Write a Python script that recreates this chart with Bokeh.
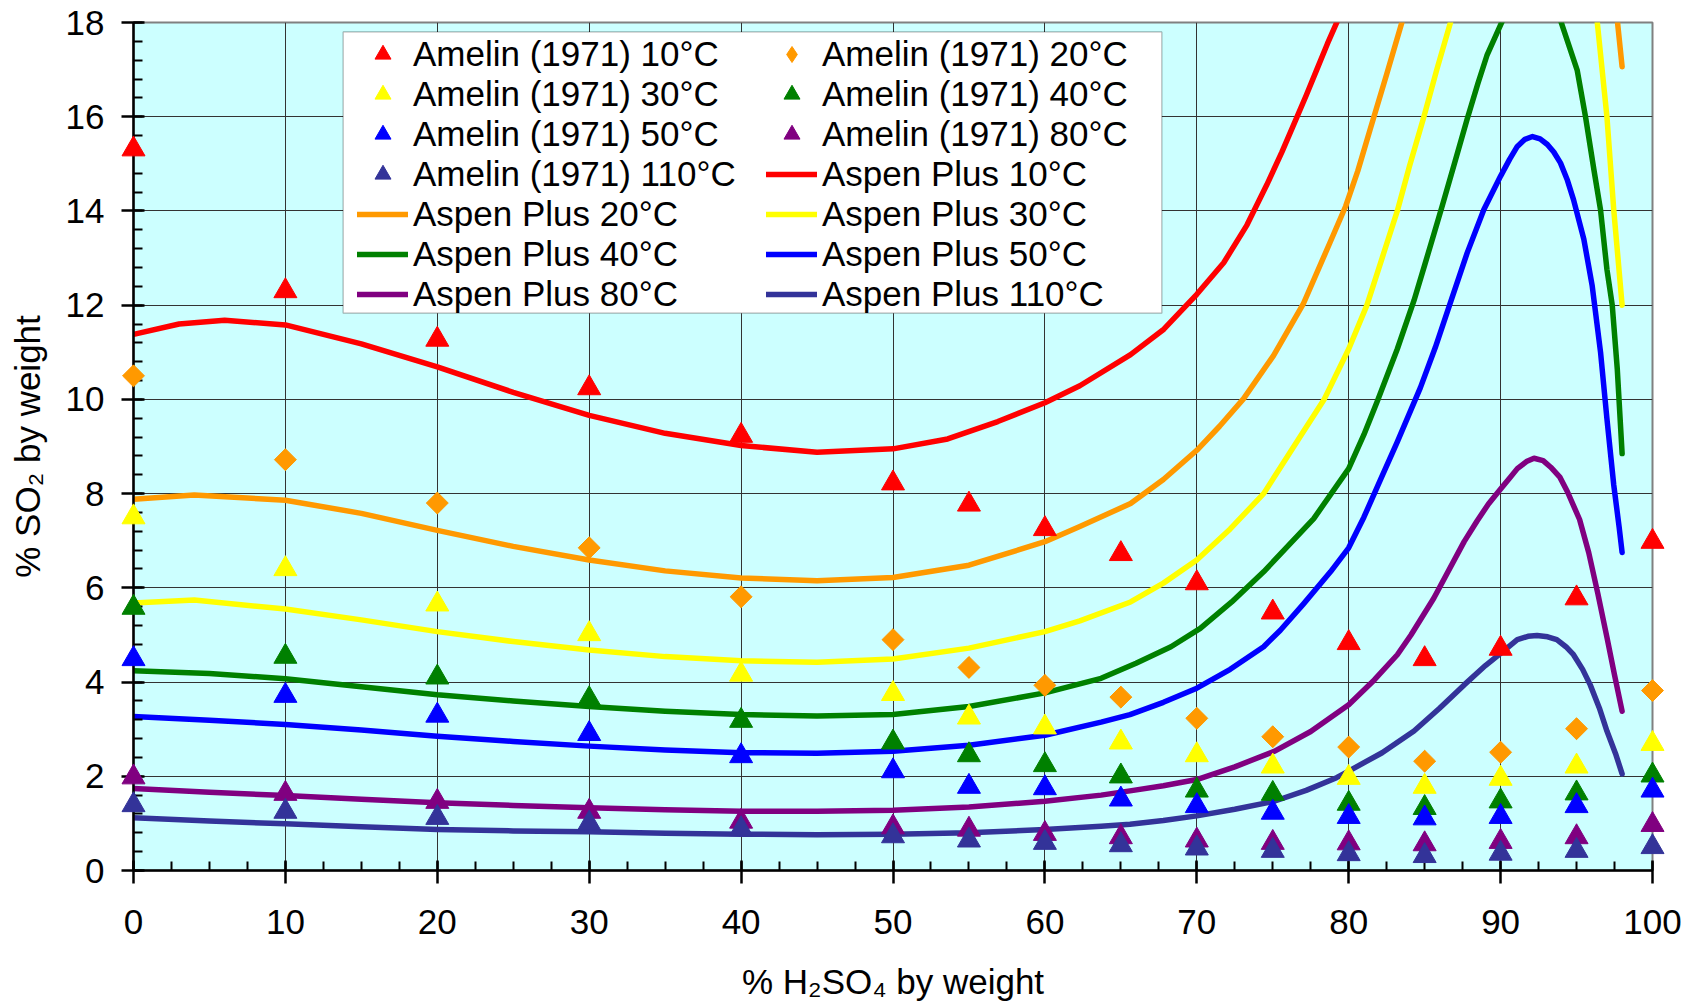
import math
from bokeh.plotting import figure
from bokeh.models import Range1d, FixedTicker, Legend, LegendItem, BoxAnnotation
from bokeh.embed import file_html
from bokeh.resources import INLINE

# ---------------- data ----------------
h2so4_pct = [0, 10, 20, 30, 40, 50, 55, 60, 65, 70, 75, 80, 85, 90, 95, 100]

amelin_10c = [15.31, 12.30, 11.27, 10.24, 9.23, 8.22, 7.77, 7.25, 6.72, 6.10, 5.48, 4.83, 4.49, 4.71, 5.78, 6.98]
amelin_20c = [10.50, 8.72, 7.80, 6.85, 5.81, 4.90, 4.31, 3.93, 3.68, 3.23, 2.84, 2.62, 2.32, 2.51, 3.01, 3.82]
amelin_30c = [7.50, 6.40, 5.65, 5.02, 4.16, 3.75, 3.25, 3.04, 2.72, 2.45, 2.21, 1.97, 1.78, 1.95, 2.21, 2.69]
amelin_40c = [5.58, 4.54, 4.10, 3.64, 3.18, 2.72, 2.45, 2.24, 2.00, 1.70, 1.63, 1.42, 1.33, 1.47, 1.64, 2.02]
amelin_50c = [4.49, 3.71, 3.29, 2.90, 2.43, 2.11, 1.78, 1.75, 1.51, 1.37, 1.23, 1.14, 1.11, 1.14, 1.37, 1.70]
amelin_80c = [1.98, 1.63, 1.46, 1.25, 1.04, 0.92, 0.87, 0.78, 0.71, 0.64, 0.59, 0.58, 0.56, 0.61, 0.71, 0.97]
amelin_110c = [1.39, 1.25, 1.12, 1.00, 0.88, 0.73, 0.64, 0.59, 0.54, 0.47, 0.42, 0.35, 0.31, 0.36, 0.42, 0.50]

aspen_10c_x = [0, 3, 6, 10, 15, 20, 25, 30, 35, 40, 45, 50, 53.6, 56.9, 60, 62.3, 65.64, 67.83, 70.0,
               71.77, 73.3, 74.6, 75.6, 76.4, 77.2, 77.9, 78.6, 79.35, 79.7]
aspen_10c_y = [11.38, 11.6, 11.68, 11.58, 11.18, 10.69, 10.15, 9.66, 9.28, 9.02, 8.88, 8.95, 9.16, 9.53, 9.93,
               10.29, 10.95, 11.49, 12.23, 12.9, 13.7, 14.55, 15.25, 15.85, 16.45, 17.0, 17.55, 18.1, 18.4]

aspen_20c_x = [0, 4, 10, 15, 20, 25, 30, 35, 40, 45, 50, 55, 60, 62.3, 65.64, 67.8, 70.0, 71.5, 73.07,
               75.05, 77.0, 78.77, 79.8, 80.6, 81.4, 82.5, 83.5, 83.8]
aspen_20c_y = [7.88, 7.97, 7.86, 7.58, 7.22, 6.88, 6.59, 6.36, 6.21, 6.15, 6.22, 6.48, 6.98, 7.3, 7.79, 8.3,
               8.92, 9.43, 10.01, 10.93, 12.02, 13.33, 14.1, 14.85, 15.72, 16.9, 18.0, 18.3]
aspen_20c_tail_x = [97.65, 98.0]
aspen_20c_tail_y = [18.15, 17.06]

aspen_30c_x = [0, 4, 10, 15, 20, 25, 30, 35, 40, 45, 50, 55, 60, 62.3, 65.64, 67.8, 70.0, 72.2, 74.4,
               77.0, 78.4, 80.0, 81.2, 82.2, 83.2, 84.0, 84.95, 85.8, 86.7, 87.0]
aspen_30c_y = [5.68, 5.74, 5.55, 5.32, 5.07, 4.86, 4.68, 4.54, 4.45, 4.42, 4.49, 4.72, 5.07, 5.3, 5.7, 6.1,
               6.59, 7.25, 8.0, 9.31, 10.01, 11.07, 12.0, 13.0, 14.0, 14.95, 16.0, 17.0, 18.0, 18.35]
aspen_30c_tail_x = [96.3, 96.35, 97.0, 97.45, 98.0]
aspen_30c_tail_y = [18.3, 18.05, 16.0, 14.02, 12.0]

aspen_40c_x = [0, 5, 10, 15, 20, 25, 30, 35, 40, 45, 50, 55, 60, 63.7, 66, 68.3, 70.23, 72.3, 74.4, 77.7,
               80.0, 81.0, 81.87, 83.2, 84.3, 85.0, 85.6, 86.15, 87.0, 87.8, 88.5, 89.1, 90.0, 90.5]
aspen_40c_y = [4.24, 4.18, 4.07, 3.90, 3.73, 3.60, 3.48, 3.38, 3.31, 3.28, 3.31, 3.48, 3.77, 4.08, 4.4, 4.75,
               5.14, 5.7, 6.34, 7.47, 8.53, 9.25, 9.95, 11.07, 12.1, 12.85, 13.5, 14.1, 15.05, 15.95, 16.7,
               17.3, 17.95, 18.3]
aspen_40c_tail_x = [93.8, 93.94, 95.04, 95.59, 96.14, 96.58, 97.0, 97.35, 97.68, 98.0]
aspen_40c_tail_y = [18.2, 18.05, 16.99, 16.0, 14.88, 14.02, 12.76, 12.0, 10.65, 8.85]

aspen_50c_x = [0, 5, 10, 15, 20, 25, 30, 35, 40, 45, 50, 55, 60, 63.7, 65.6, 67.8, 70, 72.2, 74.4, 75.5,
               77.0, 78.8, 80.0, 81.0, 82.1, 83.2, 84.72, 85.7, 86.7, 87.8, 88.9, 90.0, 90.6, 91.1, 91.6,
               92.1, 92.6, 93.08, 93.5, 93.94, 94.4, 94.8, 95.48, 96.03, 96.58, 97.0, 97.45, 97.8, 98.0]
aspen_50c_y = [3.27, 3.19, 3.10, 2.98, 2.85, 2.74, 2.64, 2.56, 2.50, 2.49, 2.53, 2.66, 2.87, 3.15, 3.31, 3.57,
               3.87, 4.27, 4.75, 5.1, 5.65, 6.34, 6.85, 7.5, 8.3, 9.1, 10.25, 11.1, 12.06, 13.11, 14.03,
               14.74, 15.1, 15.37, 15.52, 15.58, 15.53, 15.41, 15.25, 15.02, 14.65, 14.24, 13.4, 12.41,
               11.0, 9.59, 8.18, 7.3, 6.75]

aspen_80c_x = [0, 5, 10, 15, 20, 25, 30, 35, 40, 45, 50, 55, 60, 63.7, 65.6, 67.8, 70, 72.5, 75.1, 77.5,
               80, 81.7, 83.2, 84.1, 85.6, 87.6, 88.45, 89.2, 90.0, 90.6, 91.1, 91.7, 92.2, 92.8, 93.3, 93.9,
               94.4, 95.2, 95.8, 96.4, 97.0, 97.5, 98.0]
aspen_80c_y = [1.74, 1.66, 1.59, 1.51, 1.44, 1.38, 1.33, 1.29, 1.26, 1.26, 1.28, 1.35, 1.47, 1.6, 1.69, 1.8,
               1.93, 2.2, 2.53, 2.95, 3.52, 4.05, 4.58, 5.0, 5.78, 6.98, 7.42, 7.78, 8.1, 8.33, 8.53, 8.68,
               8.75, 8.7, 8.56, 8.35, 8.04, 7.45, 6.75, 5.88, 4.95, 4.15, 3.38]

aspen_110c_x = [0, 5, 10, 15, 20, 25, 30, 35, 40, 45, 50, 55, 60, 63.7, 65.6, 67.8, 70, 72.5, 75.1, 77.2,
                79.2, 80, 82.2, 84.3, 86, 87.6, 89, 90, 91.1, 91.8, 92.4, 93.1, 93.7, 94.3, 94.8, 95.4, 95.9,
                96.5, 97.0, 97.6, 98.0]
aspen_110c_y = [1.12, 1.05, 0.99, 0.93, 0.87, 0.84, 0.82, 0.79, 0.77, 0.76, 0.77, 0.80, 0.87, 0.94, 0.98,
                1.06, 1.16, 1.3, 1.47, 1.7, 1.97, 2.11, 2.5, 2.96, 3.45, 3.94, 4.35, 4.61, 4.9, 4.97, 4.99,
                4.96, 4.9, 4.75, 4.58, 4.27, 3.94, 3.45, 2.96, 2.45, 2.05]

x_ticks = [0, 10, 20, 30, 40, 50, 60, 70, 80, 90, 100]
y_ticks = [0, 2, 4, 6, 8, 10, 12, 14, 16, 18]
x_minor_ticks = [i * 2.5 for i in range(41)]
y_minor_ticks = [round(i * 0.4, 1) for i in range(46)]

amelin_labels = ["Amelin (1971) 10°C", "Amelin (1971) 20°C", "Amelin (1971) 30°C", "Amelin (1971) 40°C",
                 "Amelin (1971) 50°C", "Amelin (1971) 80°C", "Amelin (1971) 110°C"]
aspen_labels = ["Aspen Plus 10°C", "Aspen Plus 20°C", "Aspen Plus 30°C", "Aspen Plus 40°C",
                "Aspen Plus 50°C", "Aspen Plus 80°C", "Aspen Plus 110°C"]
x_title = "% H₂SO₄ by weight"
y_title = "% SO₂ by weight"

# ---------------- styling ----------------
FONT = "Liberation Sans"
FS = "35px"
colors = ["#FF0000", "#FF9900", "#FFFF00", "#008000", "#0000FF", "#800080", "#333399"]

p = figure(width=1696, height=1003, x_range=Range1d(0, 100), y_range=Range1d(0, 18),
           output_backend="svg", toolbar_location=None,
           min_border_left=133, min_border_right=44, min_border_top=22, min_border_bottom=130,
           background_fill_color="#CCFFFF", border_fill_color="white",
           outline_line_color="#808080", outline_line_width=2)

p.xaxis.ticker = FixedTicker(ticks=x_ticks, minor_ticks=x_minor_ticks)
p.yaxis.ticker = FixedTicker(ticks=y_ticks, minor_ticks=y_minor_ticks)
p.xgrid.ticker = FixedTicker(ticks=x_ticks)
p.ygrid.ticker = FixedTicker(ticks=y_ticks)
for g in (p.xgrid[0], p.ygrid[0]):
    g.grid_line_color = "#333333"
    g.grid_line_width = 1

for ax in (p.xaxis[0], p.yaxis[0]):
    ax.axis_line_color = "black"
    ax.axis_line_width = 2.5
    ax.major_tick_line_color = "black"
    ax.major_tick_line_width = 2.5
    ax.minor_tick_line_color = "black"
    ax.minor_tick_line_width = 2
    ax.minor_tick_out = 0
    ax.major_label_text_font = FONT
    ax.major_label_text_font_size = FS
    ax.major_label_text_color = "black"
    ax.axis_label_text_font = FONT
    ax.axis_label_text_font_size = FS
    ax.axis_label_text_font_style = "normal"
    ax.axis_label_text_color = "black"

p.xaxis.major_tick_in = 10
p.xaxis.major_tick_out = 13
p.xaxis.minor_tick_in = 9
p.xaxis.major_label_standoff = 26
p.xaxis.axis_label_standoff = 25
p.xaxis.axis_label = x_title

p.yaxis.major_tick_in = 11
p.yaxis.major_tick_out = 12
p.yaxis.minor_tick_in = 9
p.yaxis.major_label_standoff = 17
p.yaxis.axis_label_standoff = 16
p.yaxis.axis_label = y_title

LW = 5.5
aspen_main = [(aspen_10c_x, aspen_10c_y), (aspen_20c_x, aspen_20c_y), (aspen_30c_x, aspen_30c_y),
              (aspen_40c_x, aspen_40c_y), (aspen_50c_x, aspen_50c_y), (aspen_80c_x, aspen_80c_y),
              (aspen_110c_x, aspen_110c_y)]
aspen_tails = {1: (aspen_20c_tail_x, aspen_20c_tail_y), 2: (aspen_30c_tail_x, aspen_30c_tail_y),
               3: (aspen_40c_tail_x, aspen_40c_tail_y)}

line_renderers = []
for i, (xs, ys) in enumerate(aspen_main):
    r = p.line(xs, ys, line_color=colors[i], line_width=LW, line_cap="round", line_join="round")
    line_renderers.append(r)
    if i in aspen_tails:
        tx, ty = aspen_tails[i]
        p.line(tx, ty, line_color=colors[i], line_width=LW, line_cap="round", line_join="round")

amelin_series = [amelin_10c, amelin_20c, amelin_30c, amelin_40c, amelin_50c, amelin_80c, amelin_110c]
marker_renderers = []
for i, ys in enumerate(amelin_series):
    if i == 1:
        # diamond (used for the legend) covered by an equal-height rotated square (Excel-style diamond)
        r = p.scatter(h2so4_pct, ys, marker="diamond", size=21,
                      fill_color=colors[i], line_color=colors[i], line_width=1, level="overlay")
        p.scatter(h2so4_pct, ys, marker="square", angle=math.pi / 4, size=15.5,
                  fill_color=colors[i], line_color=colors[i], line_width=1, level="overlay")
    else:
        r = p.scatter(h2so4_pct, ys, marker="triangle", size=23,
                      fill_color=colors[i], line_color=colors[i], line_width=1, level="overlay")
    marker_renderers.append(r)

# legend frame
legend_box = BoxAnnotation(left=13.8, right=67.7, bottom=11.83, top=17.8,
                           fill_color="white", fill_alpha=1.0, line_color="black", line_width=1.2)
p.add_layout(legend_box)

items = [LegendItem(label=lab, renderers=[r]) for lab, r in zip(amelin_labels, marker_renderers)]
items += [LegendItem(label=lab, renderers=[r]) for lab, r in zip(aspen_labels, line_renderers)]
legend = Legend(items=items, location=(224, 556), orientation="horizontal", ncols=2,
                glyph_width=51, glyph_height=40, spacing=0, label_standoff=5, label_width=353,
                padding=0, margin=0, border_line_color=None, background_fill_alpha=0,
                label_text_font=FONT, label_text_font_size=FS, label_text_color="black")
p.add_layout(legend, "center")

open("out.html", "w").write(file_html(p, INLINE))
